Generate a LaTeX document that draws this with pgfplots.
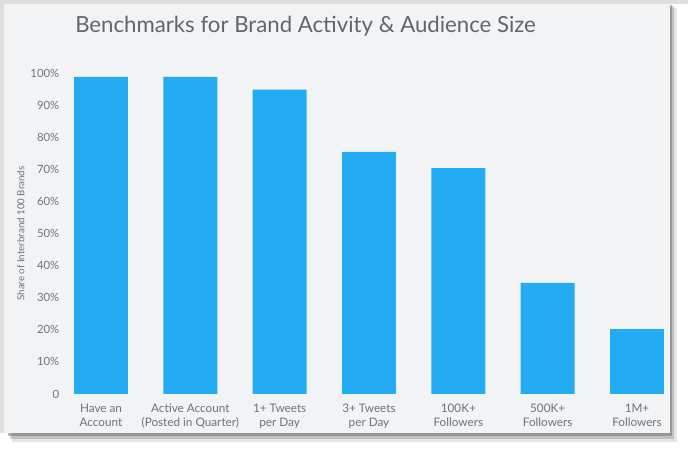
\documentclass[border=0pt]{standalone}
\usepackage{pgfplots}
\pgfplotsset{compat=1.18}
\usepackage{fontspec}
\setmainfont{Lato}
\definecolor{barblue}{HTML}{23ACF3}
\definecolor{panelbg}{HTML}{F2F3F5}
\definecolor{outergray}{HTML}{DEDFDE}
\definecolor{txtgray}{HTML}{707173}
\definecolor{titlegray}{HTML}{646567}
\begin{document}
\begin{tikzpicture}
\begin{scope}[x=0.75pt,y=0.75pt]
% canvas 688 x 452 px, y measured from bottom
\fill[white] (0,0) rectangle (688,452);
\useasboundingbox (0,0) rectangle (688,452);
\fill[outergray] (0,19) rectangle (688,452);
\fill[white] (670,0) rectangle (688,448);
\fill[white] (0,0) rectangle (688,19);
% shadow
\fill[black!40,opacity=0.25] (12,10) rectangle (677,444);
\fill[black!50,opacity=0.35] (10,13) rectangle (674,446);
\fill[black!60,opacity=0.45] (8,16) rectangle (672,447);
% panel
\fill[panelbg] (4,19) rectangle (670,448);
\node[anchor=base west,inner sep=0pt,text=titlegray,font=\fontsize{16.65}{20}\selectfont] at (75,419) {Benchmarks for Brand Activity \& Audience Size};
\end{scope}
\begin{axis}[
  at={(48pt,43.5pt)}, anchor=south west,
  scale only axis,
  width=457.5pt, height=240.75pt,
  xmin=-0.414, xmax=6.414,
  ymin=0, ymax=100,
  axis line style={draw=none},
  ybar, bar width=0.604,
  xtick={0,1,2,3,4,5,6},
  xticklabels={{Have an\\Account},{Active Account\\(Posted in Quarter)},{1+ Tweets\\per Day},{3+ Tweets\\per Day},{100K+\\Followers},{500K+\\Followers},{1M+\\Followers}},
  ytick={0,10,20,30,40,50,60,70,80,90,100},
  yticklabels={0,10\%,20\%,30\%,40\%,50\%,60\%,70\%,80\%,90\%,100\%},
  /pgf/number format/assume math mode=true,
  tick style={draw=none},
  xticklabel style={align=center, text=txtgray, font=\fontsize{8.8}{10.5}\selectfont},
  yticklabel style={text=txtgray, font=\fontsize{8.5}{10}\selectfont},
  ylabel={Share of Interbrand 100 Brands},
  ylabel shift=-2.25pt,
  ylabel style={text=txtgray, font=\fontsize{7.3}{9}\selectfont},
  clip=false,
]
\addplot[fill=barblue, draw=none] coordinates {(0,98.8) (1,98.8) (2,94.8) (3,75.4) (4,70.4) (5,34.6) (6,20.2)};
\end{axis}
\end{tikzpicture}
\end{document}
